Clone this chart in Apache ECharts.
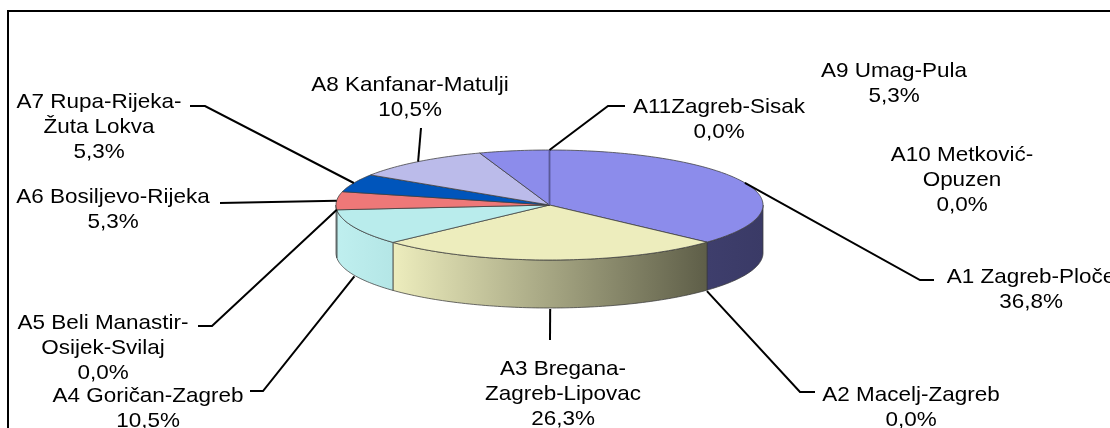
<!DOCTYPE html>
<html><head><meta charset="utf-8">
<style>html,body{margin:0;padding:0;background:#fff;overflow:hidden}#c{width:1110px;height:428px;filter:blur(0.45px)}</style>
<script src="https://cdn.jsdelivr.net/npm/echarts@6/dist/echarts.min.js"></script>
</head><body><div id="c"></div>
<script>
// Data
const routeLabels = [
  'A1 Zagreb-Ploče', 'A2 Macelj-Zagreb', 'A3 Bregana-\nZagreb-Lipovac', 'A4 Goričan-Zagreb',
  'A5 Beli Manastir-\nOsijek-Svilaj', 'A6 Bosiljevo-Rijeka', 'A7 Rupa-Rijeka-\nŽuta Lokva',
  'A8 Kanfanar-Matulji', 'A9 Umag-Pula', 'A10 Metković-\nOpuzen', 'A11Zagreb-Sisak'
];
const shares = [36.8, 0, 26.3, 10.5, 0, 5.3, 5.3, 10.5, 5.3, 0, 0];

// Styles and layout
const topColors = ['#8C8CEB', '#8C8CEB', '#EDEDBD', '#B9ECEC', '#B9ECEC', '#EE7878', '#0055BB', '#BBBBEA', '#8C8CEB', '#8C8CEB', '#8C8CEB'];
const sideStops = [
  ['#3E3E6C', '#3A3A66'], ['#3A3A66', '#3A3A66'], ['#EDEDBD', '#5E5E48'], ['#BFEFEF', '#B4E6E6'],
  ['#B4E6E6', '#B4E6E6'], ['#B4E6E6', '#B4E6E6'], ['#0055BB', '#0055BB'], ['#BBBBEA', '#BBBBEA'],
  ['#8C8CEB', '#8C8CEB'], ['#8C8CEB', '#8C8CEB'], ['#8C8CEB', '#8C8CEB']
];
const pie = { cx: 549.5, cy: 205, rx: 213.5, ry: 55, depth: 48 };
// label centre x, first-line centre y; leader: elbow, end; whether leader starts at the pie's lower rim
const labelLayout = [
  { x: 1031, y: 277, leader: [[920, 280], [934, 280]] },
  { x: 911, y: 395, leader: [[800, 392], [815, 392]], rim: true },
  { x: 563, y: 369, leader: [[550, 340]], rim: true },
  { x: 148, y: 396, leader: [[263, 391], [250, 391]], rim: true },
  { x: 103, y: 323, leader: [[212, 326], [198, 326]] },
  { x: 113, y: 197, leader: [[220, 203]] },
  { x: 99, y: 102, leader: [[205, 106], [190, 106]] },
  { x: 410, y: 85, leader: [[421, 128]] },
  { x: 894, y: 71, leader: null },
  { x: 962, y: 155, leader: null },
  { x: 719, y: 107, leader: [[608, 106], [625, 106]] }
];
const lineH = 25;

const total = shares.reduce((a, b) => a + b, 0);
const starts = []; let acc = 0;
shares.forEach(v => { starts.push(acc / total * Math.PI * 2); acc += v; });
const ends = shares.map((v, i) => starts[i] + v / total * Math.PI * 2);
const px = t => pie.cx + pie.rx * Math.sin(t);
const py = t => pie.cy - pie.ry * Math.cos(t);
function arc(a, b, dy) {
  const n = Math.max(2, Math.ceil(Math.abs(b - a) / 0.02)), out = [];
  for (let i = 0; i <= n; i++) { const t = a + (b - a) * i / n; out.push([px(t), py(t) + dy]); }
  return out;
}
const edge = { stroke: 'rgba(60,60,60,0.75)', lineWidth: 1 };

function renderSide(params, api) {
  const i = params.dataIndex, v = api.value(0);
  const a = Math.max(starts[i], Math.PI / 2), b = Math.min(ends[i], Math.PI * 1.5);
  if (v <= 0 || b <= a) return { type: 'group', children: [] };
  const pts = arc(a, b, 0).concat(arc(b, a, pie.depth));
  const lx = Math.min(px(a), px(b)), rx = Math.max(px(a), px(b));
  return { type: 'polygon', shape: { points: pts }, style: {
    fill: new echarts.graphic.LinearGradient(lx, 0, rx, 0, [
      { offset: 0, color: sideStops[i][0] },
      { offset: 1, color: sideStops[i][1] }], true),
    ...edge } };
}
function renderTop(params, api) {
  const i = params.dataIndex, v = api.value(0);
  if (v <= 0) {
    return { type: 'line', shape: { x1: pie.cx, y1: pie.cy, x2: px(starts[i]), y2: py(starts[i]) },
      style: { stroke: i > 8 ? 'rgba(95,95,170,0.55)' : 'rgba(60,60,60,0)', lineWidth: 2 } };
  }
  const pts = [[pie.cx, pie.cy]].concat(arc(starts[i], ends[i], 0));
  return { type: 'polygon', shape: { points: pts }, style: { fill: topColors[i], ...edge } };
}
function renderLabel(params, api) {
  const i = params.dataIndex, v = api.value(0), L = labelLayout[i];
  const children = [];
  if (L.leader) {
    const t = (starts[i] + ends[i]) / 2;
    let pts = [[px(t), py(t) + (L.rim ? pie.depth + 1 : 0)]].concat(L.leader);
    children.push({ type: 'polyline', shape: { points: pts }, style: { fill: null, stroke: '#000', lineWidth: 2 } });
  }
  const lines = (routeLabels[i] + '\n' + v.toFixed(1).replace('.', ',') + '%').split('\n');
  lines.forEach((s, k) => children.push({ type: 'text', x: L.x, y: L.y + k * lineH, scaleX: 1.07, style: {
    text: s, fill: '#000', font: '21px "Liberation Sans", Arial, sans-serif', align: 'center', verticalAlign: 'middle' } }));
  return { type: 'group', children };
}
const chart = echarts.init(document.getElementById('c'), null, { renderer: 'canvas' });
const seriesData = shares.map(v => [v]);
chart.setOption({
  backgroundColor: '#fff', animation: false,
  graphic: [{ type: 'rect', shape: { x: 8, y: 11, width: 1200, height: 600 },
    style: { fill: null, stroke: '#000', lineWidth: 2 }, z: 0 }],
  series: [
    { type: 'custom', coordinateSystem: 'none', renderItem: renderSide, data: seriesData, z: 2, silent: true },
    { type: 'custom', coordinateSystem: 'none', renderItem: renderTop, data: seriesData, z: 3, silent: true },
    { type: 'custom', coordinateSystem: 'none', renderItem: renderLabel, data: seriesData, z: 4, silent: true }
  ]
});
</script></body></html>
